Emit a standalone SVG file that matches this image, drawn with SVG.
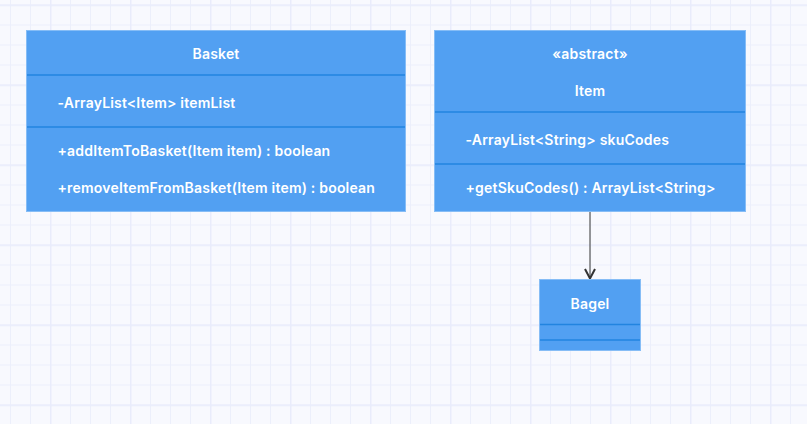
<svg xmlns="http://www.w3.org/2000/svg" width="807" height="424" viewBox="0 0 807 424">
  <defs>
    <pattern id="minor" patternUnits="userSpaceOnUse" x="10" y="4.5" width="20" height="20">
      <path d="M0 0.5H20M0.5 0V20" stroke="#eceffb" stroke-width="1" fill="none"/>
    </pattern>
    <pattern id="major" patternUnits="userSpaceOnUse" x="50" y="4.5" width="80" height="80">
      <path d="M0 0.75H80M0.75 0V80" stroke="#e9ecfb" stroke-width="1.5" fill="none"/>
    </pattern>
    <marker id="open" viewBox="0 0 12 12" refX="11" refY="6" markerWidth="12" markerHeight="12" markerUnits="userSpaceOnUse" orient="auto">
      <path d="M1 1 L10.5 6 L1 11" fill="none" stroke="#333333" stroke-width="2" stroke-linejoin="miter"/>
    </marker>
    <style>
      .box { fill: #52a0f2; stroke: #86bdf6; stroke-width: 1; }
      .div { stroke: #2284e0; stroke-width: 1.5; }
      .t { font-family: Inter, "Liberation Sans", sans-serif; font-size: 14px; font-weight: 600; fill: #ffffff; letter-spacing: 0.2px; }
      .c { text-anchor: middle; }
      .edge { stroke: #555555; stroke-width: 1.2; fill: none; }
    </style>
  </defs>
  <rect width="807" height="424" fill="#f8f9fe"/>
  <rect width="807" height="424" fill="url(#minor)"/>
  <rect width="807" height="424" fill="url(#major)"/>

  <g id="connectors">
    <line class="edge" x1="590" y1="212" x2="590" y2="279" marker-end="url(#open)"/>
  </g>

  <g id="Basket">
    <rect class="box" x="26.5" y="30.5" width="379" height="181"/>
    <line class="div" x1="27" y1="75" x2="405" y2="75"/>
    <line class="div" x1="27" y1="127" x2="405" y2="127"/>
    <text class="t c" x="216" y="59">Basket</text>
    <text class="t" x="57.5" y="108">-ArrayList&lt;Item&gt; itemList</text>
    <text class="t" x="57.5" y="156">+addItemToBasket(Item item) : boolean</text>
    <text class="t" x="57.5" y="193">+removeItemFromBasket(Item item) : boolean</text>
  </g>

  <g id="Item">
    <rect class="box" x="434.5" y="30.5" width="311" height="181"/>
    <line class="div" x1="435" y1="112" x2="745" y2="112"/>
    <line class="div" x1="435" y1="164" x2="745" y2="164"/>
    <text class="t c" x="590" y="59">«abstract»</text>
    <text class="t c" x="590" y="96">Item</text>
    <text class="t" x="465.5" y="145">-ArrayList&lt;String&gt; skuCodes</text>
    <text class="t" x="465.5" y="193">+getSkuCodes() : ArrayList&lt;String&gt;</text>
  </g>

  <g id="Bagel">
    <rect class="box" x="539.5" y="279.5" width="101" height="71"/>
    <line class="div" x1="540" y1="324.5" x2="640" y2="324.5"/>
    <line class="div" x1="540" y1="340" x2="640" y2="340"/>
    <text class="t c" x="590" y="309">Bagel</text>
  </g>
</svg>
